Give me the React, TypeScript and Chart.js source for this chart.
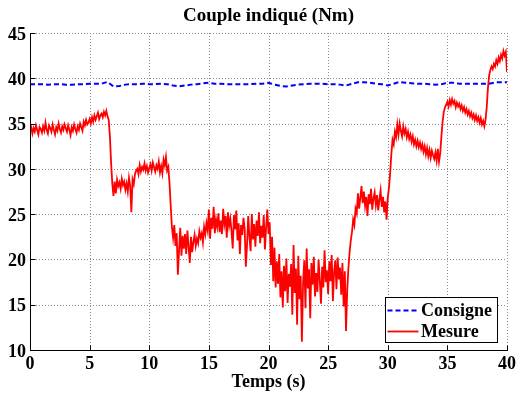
import React, { useEffect, useRef } from "react";
import { Chart, registerables } from "chart.js";

Chart.register(...registerables);

// ---------- DATA ----------
const TITLE = "Couple indiqué (Nm)";
const X_LABEL = "Temps (s)";
const X_TICKS = [0, 5, 10, 15, 20, 25, 30, 35, 40];
const Y_TICKS = [10, 15, 20, 25, 30, 35, 40, 45];

// Consigne (setpoint), sampled every 0.5 s from 0 s
const CONSIGNE_T0 = 0;
const CONSIGNE_DT = 0.5;
const consigne = [
  39.35, 39.35, 39.35, 39.3, 39.35, 39.35, 39.3, 39.3, 39.35, 39.35,
  39.4, 39.4, 39.4, 39.6, 39.1, 39.15, 39.3, 39.35, 39.35, 39.4,
  39.35, 39.35, 39.4, 39.35, 39.2, 39.1, 39.2, 39.3, 39.35, 39.45,
  39.5, 39.4, 39.4, 39.35, 39.35, 39.35, 39.35, 39.35, 39.4, 39.4,
  39.5, 39.3, 39.15, 39.1, 39.2, 39.3, 39.35, 39.4, 39.4, 39.4,
  39.35, 39.35, 39.3, 39.2, 39.4, 39.55, 39.55, 39.5, 39.4, 39.35,
  39.2, 39.4, 39.6, 39.5, 39.45, 39.4, 39.4, 39.35, 39.3, 39.35,
  39.5, 39.5, 39.4, 39.4, 39.4, 39.4, 39.4, 39.4, 39.55, 39.55,
  39.55,
];

// Mesure (measured torque), sampled every 0.1 s from 0 s
const MESURE_T0 = 0;
const MESURE_DT = 0.1;
const mesure = [
  34.2, 34.6, 33.9, 34.5, 34.1, 34.8, 34.3, 33.8, 34.6, 34.4,
  34.0, 34.7, 34.2, 35.1, 34.3, 33.9, 34.8, 34.5, 34.1, 34.9,
  34.3, 33.8, 34.6, 34.2, 35.0, 34.4, 34.0, 34.7, 34.3, 34.9,
  34.5, 34.1, 34.8, 34.3, 33.7, 34.6, 34.2, 34.9, 34.4, 34.0,
  34.7, 34.3, 35.0, 34.6, 34.2, 35.2, 34.8, 35.4, 34.9, 35.1,
  35.5, 35.0, 35.7, 35.2, 35.9, 35.4, 35.8, 36.2, 35.5, 35.9,
  36.1, 35.7, 36.3, 35.9, 36.4, 35.8, 35.4, 33.6, 30.7, 28.4,
  27.0, 28.6, 27.3, 28.8, 28.1, 28.5, 27.8, 28.9, 28.2, 28.6,
  27.7, 28.4, 27.5, 29.0, 28.1, 25.2, 28.8, 28.3, 29.4, 29.8,
  30.0, 29.4, 30.4, 29.7, 30.2, 29.9, 30.6, 29.8, 30.3, 29.6,
  30.1, 30.5, 29.8, 30.7, 30.2, 29.7, 30.4, 30.0, 30.8, 29.6,
  30.3, 29.5, 31.0, 30.4, 31.3, 29.8, 30.2, 28.4, 25.9, 23.6,
  22.4, 23.8, 21.5, 22.9, 18.3, 21.0, 23.5, 20.4, 22.6, 21.2,
  22.8, 20.6, 23.2, 21.4, 19.6, 22.5, 20.8, 21.9, 22.7, 21.5,
  22.3, 21.8, 23.1, 22.4, 22.9, 21.9, 23.6, 22.8, 24.0, 23.2,
  25.5, 22.3, 24.6, 23.4, 25.8, 22.9, 24.4, 23.6, 25.1, 23.0,
  24.3, 22.8, 25.6, 23.9, 24.8, 22.4, 25.2, 23.7, 24.5, 23.1,
  21.2, 24.9, 23.3, 25.4, 22.1, 24.0, 20.6, 23.8, 22.7, 24.6,
  23.4, 19.2, 21.6, 24.8, 22.5, 20.9, 25.0, 22.2, 23.9, 21.4,
  24.3, 22.6, 25.2, 21.8, 23.7, 22.4, 24.9, 21.1, 23.5, 25.5,
  22.8, 24.1, 19.4, 22.5, 17.6, 21.3, 16.9, 19.8, 17.3, 20.6,
  15.8, 18.7, 14.7, 19.3, 16.5, 20.1, 15.2, 18.4, 17.0, 19.5,
  13.9, 21.6, 16.3, 19.0, 12.8, 20.4, 15.6, 18.2, 10.9, 17.4,
  19.9, 14.6, 21.2, 16.8, 18.9, 13.5, 19.6, 17.2, 20.3, 15.9,
  18.5, 16.4, 20.0, 17.7, 15.1, 19.2, 16.9, 21.0, 17.5, 18.8,
  16.2, 19.8, 17.6, 20.5, 15.4, 18.6, 19.9, 16.7, 20.2, 17.8,
  19.1, 16.1, 19.6, 14.8, 18.7, 12.1, 16.5, 19.0, 20.8, 22.1,
  23.0, 24.4, 23.8, 25.6, 25.1, 27.3, 25.6, 26.8, 28.1, 26.2,
  27.5, 25.9, 26.9, 24.8, 27.2, 26.1, 27.8, 25.5, 26.7, 27.4,
  26.0, 27.1, 25.4, 26.6, 27.6, 25.8, 26.9, 25.2, 26.4, 24.4,
  26.8, 27.9, 29.5, 31.6, 33.2, 32.7, 34.1, 33.5, 34.9, 33.8,
  35.0, 34.2, 33.6, 34.7, 33.9, 34.4, 33.5, 34.1, 33.3, 33.8,
  33.0, 33.6, 32.7, 33.2, 32.5, 33.1, 32.4, 32.9, 32.2, 32.7,
  31.9, 32.5, 31.6, 32.3, 31.4, 32.1, 31.2, 32.0, 31.5, 31.1,
  31.8, 30.9, 32.2, 30.8, 31.7, 33.6, 35.2, 36.3, 36.8, 37.1,
  37.4, 36.9, 37.6, 37.1, 37.7, 37.2, 37.5, 36.8, 37.3, 36.9,
  37.2, 36.6, 37.0, 36.4, 36.8, 36.2, 36.6, 36.0, 36.4, 35.8,
  36.2, 35.6, 36.0, 35.4, 35.9, 35.3, 35.7, 35.1, 35.6, 34.9,
  35.3, 34.7, 35.4, 36.8, 38.9, 40.3, 40.9, 41.3, 41.0, 41.6,
  41.3, 42.0, 41.6, 42.3, 41.9, 42.6, 42.2, 43.0, 42.5, 42.9,
  40.7,
];

// ---------- STYLE ----------
const FONT = "'Liberation Serif', 'Times New Roman', serif";

const matlabPlugin = {
  id: "matlabDecor",
  beforeDatasetsDraw(chart: any) {
    const { ctx, chartArea: a, scales } = chart;
    const xs = scales.x;
    const ys = scales.y;
    ctx.save();
    ctx.strokeStyle = "#8a8a8a";
    ctx.lineWidth = 1;
    ctx.setLineDash([1, 2]);
    X_TICKS.forEach((v) => {
      const px = Math.round(xs.getPixelForValue(v)) + 0.5;
      ctx.beginPath();
      ctx.moveTo(px, a.top);
      ctx.lineTo(px, a.bottom);
      ctx.stroke();
    });
    Y_TICKS.forEach((v) => {
      const py = Math.round(ys.getPixelForValue(v)) + 0.5;
      ctx.beginPath();
      ctx.moveTo(a.left, py);
      ctx.lineTo(a.right, py);
      ctx.stroke();
    });
    ctx.restore();
  },
  afterDatasetsDraw(chart: any) {
    const { ctx, chartArea: a, scales } = chart;
    const xs = scales.x;
    const ys = scales.y;
    ctx.save();
    // axes (left and bottom, solid)
    ctx.strokeStyle = "#000";
    ctx.lineWidth = 1;
    ctx.setLineDash([]);
    const L = Math.round(a.left) + 0.5;
    const B = Math.round(a.bottom) + 0.5;
    ctx.beginPath();
    ctx.moveTo(L, Math.round(a.top));
    ctx.lineTo(L, B);
    ctx.lineTo(Math.round(a.right) + 1, B);
    ctx.stroke();
    // inward ticks
    const TL = 5;
    X_TICKS.forEach((v) => {
      const px = Math.round(xs.getPixelForValue(v)) + 0.5;
      ctx.beginPath();
      ctx.moveTo(px, B);
      ctx.lineTo(px, B - TL);
      ctx.stroke();
    });
    Y_TICKS.forEach((v) => {
      const py = Math.round(ys.getPixelForValue(v)) + 0.5;
      ctx.beginPath();
      ctx.moveTo(L, py);
      ctx.lineTo(L + TL, py);
      ctx.stroke();
    });

    // legend
    const ds = chart.data.datasets;
    const boxW = 112;
    const boxH = 45;
    const bx = Math.round(a.right) - 10 - boxW + 0.5;
    const by = Math.round(a.bottom) - 8 - boxH + 0.5;
    ctx.fillStyle = "#fff";
    ctx.fillRect(bx, by, boxW, boxH);
    ctx.strokeStyle = "#000";
    ctx.lineWidth = 1;
    ctx.strokeRect(bx, by, boxW, boxH);
    ctx.font = `bold 18px ${FONT}`;
    ctx.textBaseline = "middle";
    ctx.textAlign = "left";
    ds.forEach((d: any, i: number) => {
      const cy = by + 12.5 + i * 21;
      ctx.save();
      ctx.strokeStyle = d.borderColor;
      ctx.lineWidth = d.borderWidth;
      ctx.setLineDash(d.borderDash || []);
      ctx.beginPath();
      ctx.moveTo(bx + 2, Math.round(cy) + 0.5);
      ctx.lineTo(bx + 33, Math.round(cy) + 0.5);
      ctx.stroke();
      ctx.restore();
      ctx.fillStyle = "#000";
      ctx.fillText(d.label, bx + 35.5, cy + 1);
    });

    // title & x label
    const cx = (a.left + a.right) / 2;
    ctx.fillStyle = "#000";
    ctx.textAlign = "center";
    ctx.textBaseline = "alphabetic";
    ctx.font = `bold 19px ${FONT}`;
    ctx.fillText(TITLE, cx, 20.5);
    ctx.font = `bold 18px ${FONT}`;
    ctx.fillText(X_LABEL, cx, 386.5);
    ctx.restore();
  },
};

export default function App() {
  const ref = useRef<HTMLCanvasElement | null>(null);

  useEffect(() => {
    document.body.style.margin = "0";
    const canvas = ref.current;
    if (!canvas) return;

    const consignePts = consigne.map((v, i) => ({ x: CONSIGNE_T0 + i * CONSIGNE_DT, y: v }));
    const mesurePts = mesure.map((v, i) => ({ x: MESURE_T0 + i * MESURE_DT, y: v }));

    const tickFont = { family: FONT, size: 18, weight: "bold" as const };

    const chart = new Chart(canvas, {
      type: "line",
      data: {
        datasets: [
          {
            label: "Consigne",
            data: consignePts,
            borderColor: "#0000ff",
            borderWidth: 2,
            borderDash: [5, 3],
            pointRadius: 0,
            tension: 0,
            fill: false,
          },
          {
            label: "Mesure",
            data: mesurePts,
            borderColor: "#ff0000",
            borderWidth: 1.8,
            pointRadius: 0,
            tension: 0,
            fill: false,
          },
        ],
      },
      options: {
        responsive: false,
        animation: false,
        devicePixelRatio: 1,
        layout: { padding: { top: 33, right: 9, bottom: 0, left: 0 } },
        plugins: {
          legend: { display: false },
          title: { display: false },
          tooltip: { enabled: false },
        },
        scales: {
          x: {
            type: "linear",
            min: 0,
            max: 40,
            afterBuildTicks: (scale: any) => {
              scale.ticks = X_TICKS.map((v) => ({ value: v }));
            },
            afterFit: (scale: any) => {
              scale.height = 45;
              scale.paddingLeft = 0;
              scale.paddingRight = 0;
            },
            grid: { display: false, drawTicks: false },
            border: { display: false },
            ticks: {
              autoSkip: false,
              maxRotation: 0,
              padding: 4,
              color: "#000",
              font: tickFont,
            },
          },
          y: {
            type: "linear",
            min: 10,
            max: 45,
            afterBuildTicks: (scale: any) => {
              scale.ticks = Y_TICKS.map((v) => ({ value: v }));
            },
            afterFit: (scale: any) => {
              scale.width = 30;
              scale.paddingTop = 0;
              scale.paddingBottom = 0;
            },
            grid: { display: false, drawTicks: false },
            border: { display: false },
            ticks: {
              autoSkip: false,
              padding: 4,
              labelOffset: 2,
              color: "#000",
              font: tickFont,
            },
          },
        },
      },
      plugins: [matlabPlugin],
    });

    return () => chart.destroy();
  }, []);

  return (
    <div style={{ position: "fixed", left: 0, top: 0, width: 516, height: 395, background: "#fff" }}>
      <canvas ref={ref} width={516} height={395} style={{ display: "block" }} />
    </div>
  );
}
